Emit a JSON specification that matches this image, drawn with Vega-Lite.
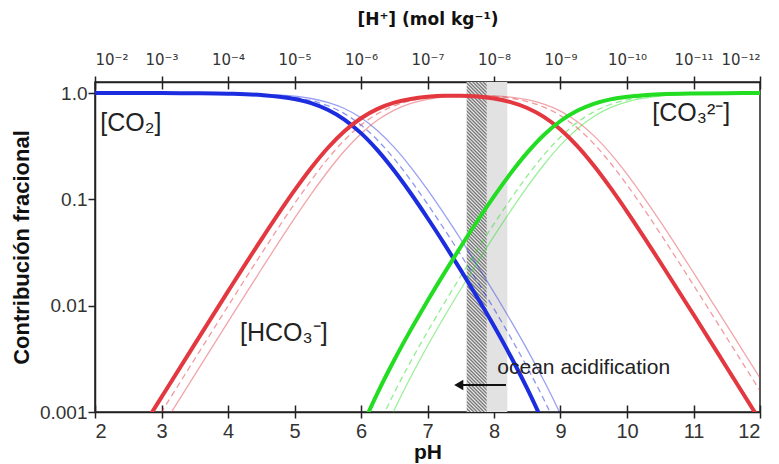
{
"$schema": "https://vega.github.io/schema/vega-lite/v6.json",
"width": 665, "height": 330,
"autosize": {"type": "none"},
"padding": {"left": 95, "top": 82, "right": 19, "bottom": 52},
"background": "white",
"config": {
  "view": {"stroke": "#222", "strokeWidth": 1.5},
  "font": "Liberation Sans",
  "axis": {"domainColor": "#222", "domainWidth": 1.5, "tickColor": "#222", "tickWidth": 1.5, "labelColor": "#333", "titleColor": "#111", "grid": false}
},
"datasets": {
  "band": [{"lo": 7.59, "hi": 8.2}],
  "hatch": [{"lo": 7.59, "hi": 7.89}],
  "labels": [
    {"pH": 2.08, "f": 0.52, "t": "[CO₂]"},
    {"pH": 4.18, "f": 0.0055, "t": "[HCO₃⁻]"},
    {"pH": 10.38, "f": 0.65, "t": "[CO₃²⁻]"}
  ],
  "note": [{"pH": 8.05, "f": 0.0026, "t": "ocean acidification"}],
  "arrow": [{"from": 8.18, "to": 7.47, "f": 0.00179}],
  "curves": [
    {"pH":2,"f":0.9999,"sp":"CO2","v":"A"},{"pH":3,"f":0.9986,"sp":"CO2","v":"A"},{"pH":3.5,"f":0.9956,"sp":"CO2","v":"A"},{"pH":4,"f":0.9864,"sp":"CO2","v":"A"},{"pH":4.5,"f":0.9582,"sp":"CO2","v":"A"},{"pH":5,"f":0.8787,"sp":"CO2","v":"A"},{"pH":5.25,"f":0.8029,"sp":"CO2","v":"A"},{"pH":5.5,"f":0.6961,"sp":"CO2","v":"A"},{"pH":5.75,"f":0.5628,"sp":"CO2","v":"A"},{"pH":6,"f":0.4199,"sp":"CO2","v":"A"},{"pH":6.25,"f":0.289,"sp":"CO2","v":"A"},{"pH":6.5,"f":0.1858,"sp":"CO2","v":"A"},{"pH":6.75,"f":0.1135,"sp":"CO2","v":"A"},{"pH":7,"f":0.0668,"sp":"CO2","v":"A"},{"pH":7.25,"f":0.03836,"sp":"CO2","v":"A"},{"pH":7.5,"f":0.02159,"sp":"CO2","v":"A"},{"pH":7.75,"f":0.01192,"sp":"CO2","v":"A"},{"pH":8,"f":0.006427,"sp":"CO2","v":"A"},{"pH":8.25,"f":0.003344,"sp":"CO2","v":"A"},{"pH":8.5,"f":0.001657,"sp":"CO2","v":"A"},{"pH":8.75,"f":0.000768,"sp":"CO2","v":"A"},
    {"pH":2.75,"f":0.000776,"sp":"HCO3","v":"A"},{"pH":3,"f":0.001379,"sp":"HCO3","v":"A"},{"pH":3.5,"f":0.004346,"sp":"HCO3","v":"A"},{"pH":4,"f":0.01362,"sp":"HCO3","v":"A"},{"pH":4.5,"f":0.04182,"sp":"HCO3","v":"A"},{"pH":5,"f":0.1213,"sp":"HCO3","v":"A"},{"pH":5.25,"f":0.1971,"sp":"HCO3","v":"A"},{"pH":5.5,"f":0.3039,"sp":"HCO3","v":"A"},{"pH":5.75,"f":0.4369,"sp":"HCO3","v":"A"},{"pH":6,"f":0.5795,"sp":"HCO3","v":"A"},{"pH":6.25,"f":0.7095,"sp":"HCO3","v":"A"},{"pH":6.5,"f":0.8111,"sp":"HCO3","v":"A"},{"pH":6.75,"f":0.8806,"sp":"HCO3","v":"A"},{"pH":7,"f":0.9221,"sp":"HCO3","v":"A"},{"pH":7.25,"f":0.9415,"sp":"HCO3","v":"A"},{"pH":7.5,"f":0.9426,"sp":"HCO3","v":"A"},{"pH":7.75,"f":0.9255,"sp":"HCO3","v":"A"},{"pH":8,"f":0.887,"sp":"HCO3","v":"A"},{"pH":8.25,"f":0.8211,"sp":"HCO3","v":"A"},{"pH":8.5,"f":0.7233,"sp":"HCO3","v":"A"},{"pH":8.75,"f":0.5962,"sp":"HCO3","v":"A"},{"pH":9,"f":0.4539,"sp":"HCO3","v":"A"},{"pH":9.25,"f":0.3186,"sp":"HCO3","v":"A"},{"pH":9.5,"f":0.2082,"sp":"HCO3","v":"A"},{"pH":9.75,"f":0.1288,"sp":"HCO3","v":"A"},{"pH":10,"f":0.0768,"sp":"HCO3","v":"A"},{"pH":10.25,"f":0.04468,"sp":"HCO3","v":"A"},{"pH":10.5,"f":0.02563,"sp":"HCO3","v":"A"},{"pH":11,"f":0.008251,"sp":"HCO3","v":"A"},{"pH":11.5,"f":0.002623,"sp":"HCO3","v":"A"},{"pH":12,"f":0.000831,"sp":"HCO3","v":"A"},
    {"pH":6,"f":0.000697,"sp":"CO3","v":"A"},{"pH":6.25,"f":0.001517,"sp":"CO3","v":"A"},{"pH":6.5,"f":0.003084,"sp":"CO3","v":"A"},{"pH":6.75,"f":0.005955,"sp":"CO3","v":"A"},{"pH":7,"f":0.01109,"sp":"CO3","v":"A"},{"pH":7.25,"f":0.02013,"sp":"CO3","v":"A"},{"pH":7.5,"f":0.03584,"sp":"CO3","v":"A"},{"pH":7.75,"f":0.06258,"sp":"CO3","v":"A"},{"pH":8,"f":0.1066,"sp":"CO3","v":"A"},{"pH":8.25,"f":0.1756,"sp":"CO3","v":"A"},{"pH":8.5,"f":0.275,"sp":"CO3","v":"A"},{"pH":8.75,"f":0.4031,"sp":"CO3","v":"A"},{"pH":9,"f":0.5457,"sp":"CO3","v":"A"},{"pH":9.25,"f":0.6812,"sp":"CO3","v":"A"},{"pH":9.5,"f":0.7918,"sp":"CO3","v":"A"},{"pH":9.75,"f":0.8712,"sp":"CO3","v":"A"},{"pH":10,"f":0.9232,"sp":"CO3","v":"A"},{"pH":10.25,"f":0.9553,"sp":"CO3","v":"A"},{"pH":10.5,"f":0.9744,"sp":"CO3","v":"A"},{"pH":11,"f":0.9917,"sp":"CO3","v":"A"},{"pH":11.5,"f":0.9974,"sp":"CO3","v":"A"},{"pH":12,"f":0.9992,"sp":"CO3","v":"A"},
    {"pH":2,"f":0.9999,"sp":"CO2","v":"B"},{"pH":3,"f":0.999,"sp":"CO2","v":"B"},{"pH":4,"f":0.9901,"sp":"CO2","v":"B"},{"pH":4.5,"f":0.9693,"sp":"CO2","v":"B"},{"pH":5,"f":0.9091,"sp":"CO2","v":"B"},{"pH":5.25,"f":0.8491,"sp":"CO2","v":"B"},{"pH":5.5,"f":0.7598,"sp":"CO2","v":"B"},{"pH":5.75,"f":0.64,"sp":"CO2","v":"B"},{"pH":6,"f":0.4998,"sp":"CO2","v":"B"},{"pH":6.25,"f":0.3597,"sp":"CO2","v":"B"},{"pH":6.5,"f":0.2399,"sp":"CO2","v":"B"},{"pH":6.75,"f":0.1505,"sp":"CO2","v":"B"},{"pH":7,"f":0.09039,"sp":"CO2","v":"B"},{"pH":7.25,"f":0.05269,"sp":"CO2","v":"B"},{"pH":7.5,"f":0.03007,"sp":"CO2","v":"B"},{"pH":7.75,"f":0.01688,"sp":"CO2","v":"B"},{"pH":8,"f":0.00932,"sp":"CO2","v":"B"},{"pH":8.25,"f":0.005031,"sp":"CO2","v":"B"},{"pH":8.5,"f":0.002629,"sp":"CO2","v":"B"},{"pH":8.75,"f":0.001311,"sp":"CO2","v":"B"},{"pH":9,"f":0.000613,"sp":"CO2","v":"B"},
    {"pH":2.75,"f":0.000562,"sp":"HCO3","v":"B"},{"pH":3,"f":0.000999,"sp":"HCO3","v":"B"},{"pH":3.5,"f":0.003153,"sp":"HCO3","v":"B"},{"pH":4,"f":0.009901,"sp":"HCO3","v":"B"},{"pH":4.5,"f":0.03065,"sp":"HCO3","v":"B"},{"pH":5,"f":0.09091,"sp":"HCO3","v":"B"},{"pH":5.25,"f":0.151,"sp":"HCO3","v":"B"},{"pH":5.5,"f":0.2403,"sp":"HCO3","v":"B"},{"pH":5.75,"f":0.36,"sp":"HCO3","v":"B"},{"pH":6,"f":0.4998,"sp":"HCO3","v":"B"},{"pH":6.25,"f":0.6396,"sp":"HCO3","v":"B"},{"pH":6.5,"f":0.7586,"sp":"HCO3","v":"B"},{"pH":6.75,"f":0.8465,"sp":"HCO3","v":"B"},{"pH":7,"f":0.9039,"sp":"HCO3","v":"B"},{"pH":7.25,"f":0.9368,"sp":"HCO3","v":"B"},{"pH":7.5,"f":0.951,"sp":"HCO3","v":"B"},{"pH":7.75,"f":0.9494,"sp":"HCO3","v":"B"},{"pH":8,"f":0.9319,"sp":"HCO3","v":"B"},{"pH":8.25,"f":0.8946,"sp":"HCO3","v":"B"},{"pH":8.5,"f":0.8315,"sp":"HCO3","v":"B"},{"pH":8.75,"f":0.7371,"sp":"HCO3","v":"B"},{"pH":9,"f":0.6127,"sp":"HCO3","v":"B"},{"pH":9.25,"f":0.4711,"sp":"HCO3","v":"B"},{"pH":9.5,"f":0.3338,"sp":"HCO3","v":"B"},{"pH":9.75,"f":0.2199,"sp":"HCO3","v":"B"},{"pH":10,"f":0.1368,"sp":"HCO3","v":"B"},{"pH":10.25,"f":0.08183,"sp":"HCO3","v":"B"},{"pH":10.5,"f":0.04773,"sp":"HCO3","v":"B"},{"pH":11,"f":0.0156,"sp":"HCO3","v":"B"},{"pH":11.5,"f":0.004988,"sp":"HCO3","v":"B"},{"pH":12,"f":0.001582,"sp":"HCO3","v":"B"},
    {"pH":6.25,"f":0.000718,"sp":"CO3","v":"B"},{"pH":6.5,"f":0.001514,"sp":"CO3","v":"B"},{"pH":6.75,"f":0.003004,"sp":"CO3","v":"B"},{"pH":7,"f":0.005703,"sp":"CO3","v":"B"},{"pH":7.25,"f":0.01051,"sp":"CO3","v":"B"},{"pH":7.5,"f":0.01897,"sp":"CO3","v":"B"},{"pH":7.75,"f":0.03369,"sp":"CO3","v":"B"},{"pH":8,"f":0.05879,"sp":"CO3","v":"B"},{"pH":8.25,"f":0.1004,"sp":"CO3","v":"B"},{"pH":8.5,"f":0.1659,"sp":"CO3","v":"B"},{"pH":8.75,"f":0.2616,"sp":"CO3","v":"B"},{"pH":9,"f":0.3866,"sp":"CO3","v":"B"},{"pH":9.25,"f":0.5286,"sp":"CO3","v":"B"},{"pH":9.5,"f":0.666,"sp":"CO3","v":"B"},{"pH":9.75,"f":0.7801,"sp":"CO3","v":"B"},{"pH":10,"f":0.8632,"sp":"CO3","v":"B"},{"pH":10.25,"f":0.9182,"sp":"CO3","v":"B"},{"pH":10.5,"f":0.9523,"sp":"CO3","v":"B"},{"pH":11,"f":0.9844,"sp":"CO3","v":"B"},{"pH":11.5,"f":0.995,"sp":"CO3","v":"B"},{"pH":12,"f":0.9984,"sp":"CO3","v":"B"},
    {"pH":2,"f":0.9999,"sp":"CO2","v":"C"},{"pH":3,"f":0.9993,"sp":"CO2","v":"C"},{"pH":4,"f":0.993,"sp":"CO2","v":"C"},{"pH":4.5,"f":0.9781,"sp":"CO2","v":"C"},{"pH":5,"f":0.9339,"sp":"CO2","v":"C"},{"pH":5.25,"f":0.8882,"sp":"CO2","v":"C"},{"pH":5.5,"f":0.8171,"sp":"CO2","v":"C"},{"pH":5.75,"f":0.7153,"sp":"CO2","v":"C"},{"pH":6,"f":0.5854,"sp":"CO2","v":"C"},{"pH":6.25,"f":0.4425,"sp":"CO2","v":"C"},{"pH":6.5,"f":0.3084,"sp":"CO2","v":"C"},{"pH":6.75,"f":0.2003,"sp":"CO2","v":"C"},{"pH":7,"f":0.1233,"sp":"CO2","v":"C"},{"pH":7.25,"f":0.073,"sp":"CO2","v":"C"},{"pH":7.5,"f":0.04214,"sp":"CO2","v":"C"},{"pH":7.75,"f":0.02388,"sp":"CO2","v":"C"},{"pH":8,"f":0.0133,"sp":"CO2","v":"C"},{"pH":8.25,"f":0.007267,"sp":"CO2","v":"C"},{"pH":8.5,"f":0.003864,"sp":"CO2","v":"C"},{"pH":8.75,"f":0.001975,"sp":"CO2","v":"C"},{"pH":9,"f":0.000954,"sp":"CO2","v":"C"},{"pH":9.25,"f":0.000429,"sp":"CO2","v":"C"},
    {"pH":3,"f":0.000707,"sp":"HCO3","v":"C"},{"pH":3.25,"f":0.001257,"sp":"HCO3","v":"C"},{"pH":3.5,"f":0.002234,"sp":"HCO3","v":"C"},{"pH":4,"f":0.007027,"sp":"HCO3","v":"C"},{"pH":4.5,"f":0.0219,"sp":"HCO3","v":"C"},{"pH":5,"f":0.06609,"sp":"HCO3","v":"C"},{"pH":5.25,"f":0.1118,"sp":"HCO3","v":"C"},{"pH":5.5,"f":0.1829,"sp":"HCO3","v":"C"},{"pH":5.75,"f":0.2847,"sp":"HCO3","v":"C"},{"pH":6,"f":0.4143,"sp":"HCO3","v":"C"},{"pH":6.25,"f":0.5571,"sp":"HCO3","v":"C"},{"pH":6.5,"f":0.6905,"sp":"HCO3","v":"C"},{"pH":6.75,"f":0.7975,"sp":"HCO3","v":"C"},{"pH":7,"f":0.8725,"sp":"HCO3","v":"C"},{"pH":7.25,"f":0.9192,"sp":"HCO3","v":"C"},{"pH":7.5,"f":0.9436,"sp":"HCO3","v":"C"},{"pH":7.75,"f":0.9506,"sp":"HCO3","v":"C"},{"pH":8,"f":0.9416,"sp":"HCO3","v":"C"},{"pH":8.25,"f":0.9149,"sp":"HCO3","v":"C"},{"pH":8.5,"f":0.8651,"sp":"HCO3","v":"C"},{"pH":8.75,"f":0.7864,"sp":"HCO3","v":"C"},{"pH":9,"f":0.6757,"sp":"HCO3","v":"C"},{"pH":9.25,"f":0.54,"sp":"HCO3","v":"C"},{"pH":9.5,"f":0.3978,"sp":"HCO3","v":"C"},{"pH":9.75,"f":0.2709,"sp":"HCO3","v":"C"},{"pH":10,"f":0.1728,"sp":"HCO3","v":"C"},{"pH":10.25,"f":0.1051,"sp":"HCO3","v":"C"},{"pH":10.5,"f":0.06196,"sp":"HCO3","v":"C"},{"pH":11,"f":0.02047,"sp":"HCO3","v":"C"},{"pH":11.5,"f":0.006562,"sp":"HCO3","v":"C"},{"pH":12,"f":0.002085,"sp":"HCO3","v":"C"},
    {"pH":6.25,"f":0.000474,"sp":"CO3","v":"C"},{"pH":6.5,"f":0.001045,"sp":"CO3","v":"C"},{"pH":6.75,"f":0.002147,"sp":"CO3","v":"C"},{"pH":7,"f":0.004177,"sp":"CO3","v":"C"},{"pH":7.25,"f":0.007823,"sp":"CO3","v":"C"},{"pH":7.5,"f":0.01428,"sp":"CO3","v":"C"},{"pH":7.75,"f":0.02559,"sp":"CO3","v":"C"},{"pH":8,"f":0.04507,"sp":"CO3","v":"C"},{"pH":8.25,"f":0.07788,"sp":"CO3","v":"C"},{"pH":8.5,"f":0.1309,"sp":"CO3","v":"C"},{"pH":8.75,"f":0.2117,"sp":"CO3","v":"C"},{"pH":9,"f":0.3234,"sp":"CO3","v":"C"},{"pH":9.25,"f":0.4596,"sp":"CO3","v":"C"},{"pH":9.5,"f":0.6021,"sp":"CO3","v":"C"},{"pH":9.75,"f":0.7292,"sp":"CO3","v":"C"},{"pH":10,"f":0.8272,"sp":"CO3","v":"C"},{"pH":10.25,"f":0.8948,"sp":"CO3","v":"C"},{"pH":10.5,"f":0.938,"sp":"CO3","v":"C"},{"pH":11,"f":0.9795,"sp":"CO3","v":"C"},{"pH":11.5,"f":0.9934,"sp":"CO3","v":"C"},{"pH":12,"f":0.9979,"sp":"CO3","v":"C"}
  ]
},
"resolve": {"axis": {"x": "independent"}},
"layer": [
  {
    "data": {"name": "band"},
    "mark": {"type": "rect", "color": "#e2e2e2"},
    "encoding": {
      "x": {"field": "lo", "type": "quantitative", "scale": {"domain": [2, 12], "nice": false, "zero": false},
            "axis": {"orient": "bottom", "values": [2,3,4,5,6,7,8,9,10,11,12], "title": "pH", "titleFontSize": 21, "titleFontWeight": "bold", "titlePadding": 0, "labelFontSize": 20, "tickSize": 6, "labelPadding": 3}},
      "x2": {"field": "hi"},
      "y": {"datum": 0.001, "type": "quantitative", "scale": {"type": "log", "domain": [0.001, 1.27], "nice": false},
            "axis": {"values": [0.001, 0.01, 0.1, 1], "format": "~g", "labelExpr": "datum.value >= 0.5 ? '1.0' : datum.label", "title": "Contribución fracional", "titleFontSize": 22, "titleFontWeight": "bold", "titlePadding": 6, "labelFontSize": 19, "tickSize": 7, "labelPadding": 1}},
      "y2": {"datum": 1.27}
    }
  },
  {
    "data": {"name": "hatch"},
    "mark": {"type": "rect", "color": {"gradient": "linear", "x1": 0, "y1": 1, "x2": 0.064, "y2": -0.0567, "stops": [
      {"offset":0,"color":"#6a6a6a"},{"offset":0.005,"color":"#ececec"},{"offset":0.01,"color":"#6a6a6a"},{"offset":0.015,"color":"#ececec"},{"offset":0.02,"color":"#6a6a6a"},{"offset":0.025,"color":"#ececec"},{"offset":0.03,"color":"#6a6a6a"},{"offset":0.035,"color":"#ececec"},{"offset":0.04,"color":"#6a6a6a"},{"offset":0.045,"color":"#ececec"},
      {"offset":0.05,"color":"#6a6a6a"},{"offset":0.055,"color":"#ececec"},{"offset":0.06,"color":"#6a6a6a"},{"offset":0.065,"color":"#ececec"},{"offset":0.07,"color":"#6a6a6a"},{"offset":0.075,"color":"#ececec"},{"offset":0.08,"color":"#6a6a6a"},{"offset":0.085,"color":"#ececec"},{"offset":0.09,"color":"#6a6a6a"},{"offset":0.095,"color":"#ececec"},
      {"offset":0.1,"color":"#6a6a6a"},{"offset":0.105,"color":"#ececec"},{"offset":0.11,"color":"#6a6a6a"},{"offset":0.115,"color":"#ececec"},{"offset":0.12,"color":"#6a6a6a"},{"offset":0.125,"color":"#ececec"},{"offset":0.13,"color":"#6a6a6a"},{"offset":0.135,"color":"#ececec"},{"offset":0.14,"color":"#6a6a6a"},{"offset":0.145,"color":"#ececec"},
      {"offset":0.15,"color":"#6a6a6a"},{"offset":0.155,"color":"#ececec"},{"offset":0.16,"color":"#6a6a6a"},{"offset":0.165,"color":"#ececec"},{"offset":0.17,"color":"#6a6a6a"},{"offset":0.175,"color":"#ececec"},{"offset":0.18,"color":"#6a6a6a"},{"offset":0.185,"color":"#ececec"},{"offset":0.19,"color":"#6a6a6a"},{"offset":0.195,"color":"#ececec"},
      {"offset":0.2,"color":"#6a6a6a"},{"offset":0.205,"color":"#ececec"},{"offset":0.21,"color":"#6a6a6a"},{"offset":0.215,"color":"#ececec"},{"offset":0.22,"color":"#6a6a6a"},{"offset":0.225,"color":"#ececec"},{"offset":0.23,"color":"#6a6a6a"},{"offset":0.235,"color":"#ececec"},{"offset":0.24,"color":"#6a6a6a"},{"offset":0.245,"color":"#ececec"},
      {"offset":0.25,"color":"#6a6a6a"},{"offset":0.255,"color":"#ececec"},{"offset":0.26,"color":"#6a6a6a"},{"offset":0.265,"color":"#ececec"},{"offset":0.27,"color":"#6a6a6a"},{"offset":0.275,"color":"#ececec"},{"offset":0.28,"color":"#6a6a6a"},{"offset":0.285,"color":"#ececec"},{"offset":0.29,"color":"#6a6a6a"},{"offset":0.295,"color":"#ececec"},
      {"offset":0.3,"color":"#6a6a6a"},{"offset":0.305,"color":"#ececec"},{"offset":0.31,"color":"#6a6a6a"},{"offset":0.315,"color":"#ececec"},{"offset":0.32,"color":"#6a6a6a"},{"offset":0.325,"color":"#ececec"},{"offset":0.33,"color":"#6a6a6a"},{"offset":0.335,"color":"#ececec"},{"offset":0.34,"color":"#6a6a6a"},{"offset":0.345,"color":"#ececec"},
      {"offset":0.35,"color":"#6a6a6a"},{"offset":0.355,"color":"#ececec"},{"offset":0.36,"color":"#6a6a6a"},{"offset":0.365,"color":"#ececec"},{"offset":0.37,"color":"#6a6a6a"},{"offset":0.375,"color":"#ececec"},{"offset":0.38,"color":"#6a6a6a"},{"offset":0.385,"color":"#ececec"},{"offset":0.39,"color":"#6a6a6a"},{"offset":0.395,"color":"#ececec"},
      {"offset":0.4,"color":"#6a6a6a"},{"offset":0.405,"color":"#ececec"},{"offset":0.41,"color":"#6a6a6a"},{"offset":0.415,"color":"#ececec"},{"offset":0.42,"color":"#6a6a6a"},{"offset":0.425,"color":"#ececec"},{"offset":0.43,"color":"#6a6a6a"},{"offset":0.435,"color":"#ececec"},{"offset":0.44,"color":"#6a6a6a"},{"offset":0.445,"color":"#ececec"},
      {"offset":0.45,"color":"#6a6a6a"},{"offset":0.455,"color":"#ececec"},{"offset":0.46,"color":"#6a6a6a"},{"offset":0.465,"color":"#ececec"},{"offset":0.47,"color":"#6a6a6a"},{"offset":0.475,"color":"#ececec"},{"offset":0.48,"color":"#6a6a6a"},{"offset":0.485,"color":"#ececec"},{"offset":0.49,"color":"#6a6a6a"},{"offset":0.495,"color":"#ececec"},
      {"offset":0.5,"color":"#6a6a6a"},{"offset":0.505,"color":"#ececec"},{"offset":0.51,"color":"#6a6a6a"},{"offset":0.515,"color":"#ececec"},{"offset":0.52,"color":"#6a6a6a"},{"offset":0.525,"color":"#ececec"},{"offset":0.53,"color":"#6a6a6a"},{"offset":0.535,"color":"#ececec"},{"offset":0.54,"color":"#6a6a6a"},{"offset":0.545,"color":"#ececec"},
      {"offset":0.55,"color":"#6a6a6a"},{"offset":0.555,"color":"#ececec"},{"offset":0.56,"color":"#6a6a6a"},{"offset":0.565,"color":"#ececec"},{"offset":0.57,"color":"#6a6a6a"},{"offset":0.575,"color":"#ececec"},{"offset":0.58,"color":"#6a6a6a"},{"offset":0.585,"color":"#ececec"},{"offset":0.59,"color":"#6a6a6a"},{"offset":0.595,"color":"#ececec"},
      {"offset":0.6,"color":"#6a6a6a"},{"offset":0.605,"color":"#ececec"},{"offset":0.61,"color":"#6a6a6a"},{"offset":0.615,"color":"#ececec"},{"offset":0.62,"color":"#6a6a6a"},{"offset":0.625,"color":"#ececec"},{"offset":0.63,"color":"#6a6a6a"},{"offset":0.635,"color":"#ececec"},{"offset":0.64,"color":"#6a6a6a"},{"offset":0.645,"color":"#ececec"},
      {"offset":0.65,"color":"#6a6a6a"},{"offset":0.655,"color":"#ececec"},{"offset":0.66,"color":"#6a6a6a"},{"offset":0.665,"color":"#ececec"},{"offset":0.67,"color":"#6a6a6a"},{"offset":0.675,"color":"#ececec"},{"offset":0.68,"color":"#6a6a6a"},{"offset":0.685,"color":"#ececec"},{"offset":0.69,"color":"#6a6a6a"},{"offset":0.695,"color":"#ececec"},
      {"offset":0.7,"color":"#6a6a6a"},{"offset":0.705,"color":"#ececec"},{"offset":0.71,"color":"#6a6a6a"},{"offset":0.715,"color":"#ececec"},{"offset":0.72,"color":"#6a6a6a"},{"offset":0.725,"color":"#ececec"},{"offset":0.73,"color":"#6a6a6a"},{"offset":0.735,"color":"#ececec"},{"offset":0.74,"color":"#6a6a6a"},{"offset":0.745,"color":"#ececec"},
      {"offset":0.75,"color":"#6a6a6a"},{"offset":0.755,"color":"#ececec"},{"offset":0.76,"color":"#6a6a6a"},{"offset":0.765,"color":"#ececec"},{"offset":0.77,"color":"#6a6a6a"},{"offset":0.775,"color":"#ececec"},{"offset":0.78,"color":"#6a6a6a"},{"offset":0.785,"color":"#ececec"},{"offset":0.79,"color":"#6a6a6a"},{"offset":0.795,"color":"#ececec"},
      {"offset":0.8,"color":"#6a6a6a"},{"offset":0.805,"color":"#ececec"},{"offset":0.81,"color":"#6a6a6a"},{"offset":0.815,"color":"#ececec"},{"offset":0.82,"color":"#6a6a6a"},{"offset":0.825,"color":"#ececec"},{"offset":0.83,"color":"#6a6a6a"},{"offset":0.835,"color":"#ececec"},{"offset":0.84,"color":"#6a6a6a"},{"offset":0.845,"color":"#ececec"},
      {"offset":0.85,"color":"#6a6a6a"},{"offset":0.855,"color":"#ececec"},{"offset":0.86,"color":"#6a6a6a"},{"offset":0.865,"color":"#ececec"},{"offset":0.87,"color":"#6a6a6a"},{"offset":0.875,"color":"#ececec"},{"offset":0.88,"color":"#6a6a6a"},{"offset":0.885,"color":"#ececec"},{"offset":0.89,"color":"#6a6a6a"},{"offset":0.895,"color":"#ececec"},
      {"offset":0.9,"color":"#6a6a6a"},{"offset":0.905,"color":"#ececec"},{"offset":0.91,"color":"#6a6a6a"},{"offset":0.915,"color":"#ececec"},{"offset":0.92,"color":"#6a6a6a"},{"offset":0.925,"color":"#ececec"},{"offset":0.93,"color":"#6a6a6a"},{"offset":0.935,"color":"#ececec"},{"offset":0.94,"color":"#6a6a6a"},{"offset":0.945,"color":"#ececec"},
      {"offset":0.95,"color":"#6a6a6a"},{"offset":0.955,"color":"#ececec"},{"offset":0.96,"color":"#6a6a6a"},{"offset":0.965,"color":"#ececec"},{"offset":0.97,"color":"#6a6a6a"},{"offset":0.975,"color":"#ececec"},{"offset":0.98,"color":"#6a6a6a"},{"offset":0.985,"color":"#ececec"},{"offset":0.99,"color":"#6a6a6a"},{"offset":0.995,"color":"#ececec"},
      {"offset":1,"color":"#6a6a6a"}
    ]}},
    "encoding": {
      "x": {"field": "lo", "type": "quantitative",
            "axis": {"orient": "bottom", "values": [2,3,4,5,6,7,8,9,10,11,12], "labels": false, "title": null, "domain": false, "tickSize": -7}},
      "x2": {"field": "hi"},
      "y": {"datum": 0.001, "type": "quantitative"},
      "y2": {"datum": 1.27}
    }
  },
  {
    "data": {"name": "curves"},
    "transform": [{"filter": "datum.v == 'C'"}],
    "mark": {"type": "line", "strokeWidth": 1.3, "opacity": 0.45, "interpolate": "monotone", "clip": true},
    "encoding": {
      "x": {"field": "pH", "type": "quantitative",
            "axis": {"orient": "top", "values": [2,3,4,5,6,7,8,9,10,11,12], "labelExpr": "['10⁻²','10⁻³','10⁻⁴','10⁻⁵','10⁻⁶','10⁻⁷','10⁻⁸','10⁻⁹','10⁻¹⁰','10⁻¹¹','10⁻¹²'][datum.value - 2]", "labelFont": "DejaVu Sans", "labelFontSize": 15, "title": "[H⁺] (mol kg⁻¹)", "titleFont": "DejaVu Sans", "titleFontSize": 17, "titleFontWeight": "bold", "titlePadding": 24, "tickSize": 6, "labelPadding": 9}},
      "y": {"field": "f", "type": "quantitative"},
      "color": {"field": "sp", "type": "nominal", "scale": {"domain": ["CO2", "HCO3", "CO3"], "range": ["#1c2de0", "#e33840", "#22dd22"]}, "legend": null},
      "detail": {"field": "sp"}
    }
  },
  {
    "data": {"name": "curves"},
    "transform": [{"filter": "datum.v == 'B'"}],
    "mark": {"type": "line", "strokeWidth": 1.3, "opacity": 0.5, "strokeDash": [6, 4], "interpolate": "monotone", "clip": true},
    "encoding": {
      "x": {"field": "pH", "type": "quantitative",
            "axis": {"orient": "top", "values": [2,3,4,5,6,7,8,9,10,11,12], "labels": false, "title": null, "domain": false, "tickSize": -7}},
      "y": {"field": "f", "type": "quantitative"},
      "color": {"field": "sp", "type": "nominal", "legend": null}
    }
  },
  {
    "data": {"name": "curves"},
    "transform": [{"filter": "datum.v == 'A'"}],
    "mark": {"type": "line", "strokeWidth": 4, "interpolate": "monotone", "clip": true},
    "encoding": {
      "x": {"field": "pH", "type": "quantitative", "axis": null},
      "y": {"field": "f", "type": "quantitative"},
      "color": {"field": "sp", "type": "nominal", "legend": null}
    }
  },
  {
    "data": {"name": "labels"},
    "mark": {"type": "text", "align": "left", "baseline": "middle", "fontSize": 25, "color": "#222"},
    "encoding": {
      "x": {"field": "pH", "type": "quantitative", "axis": null},
      "y": {"field": "f", "type": "quantitative"},
      "text": {"field": "t"}
    }
  },
  {
    "data": {"name": "note"},
    "mark": {"type": "text", "align": "left", "baseline": "middle", "fontSize": 21, "color": "#222"},
    "encoding": {
      "x": {"field": "pH", "type": "quantitative", "axis": null},
      "y": {"field": "f", "type": "quantitative"},
      "text": {"field": "t"}
    }
  },
  {
    "data": {"name": "arrow"},
    "mark": {"type": "rule", "strokeWidth": 2, "color": "#111"},
    "encoding": {
      "x": {"field": "from", "type": "quantitative", "axis": null},
      "x2": {"field": "to"},
      "y": {"field": "f", "type": "quantitative"}
    }
  },
  {
    "data": {"name": "arrow"},
    "mark": {"type": "point", "shape": "triangle-left", "filled": true, "size": 110, "color": "#111", "opacity": 1},
    "encoding": {
      "x": {"field": "to", "type": "quantitative", "axis": null},
      "y": {"field": "f", "type": "quantitative"}
    }
  }
]
}
